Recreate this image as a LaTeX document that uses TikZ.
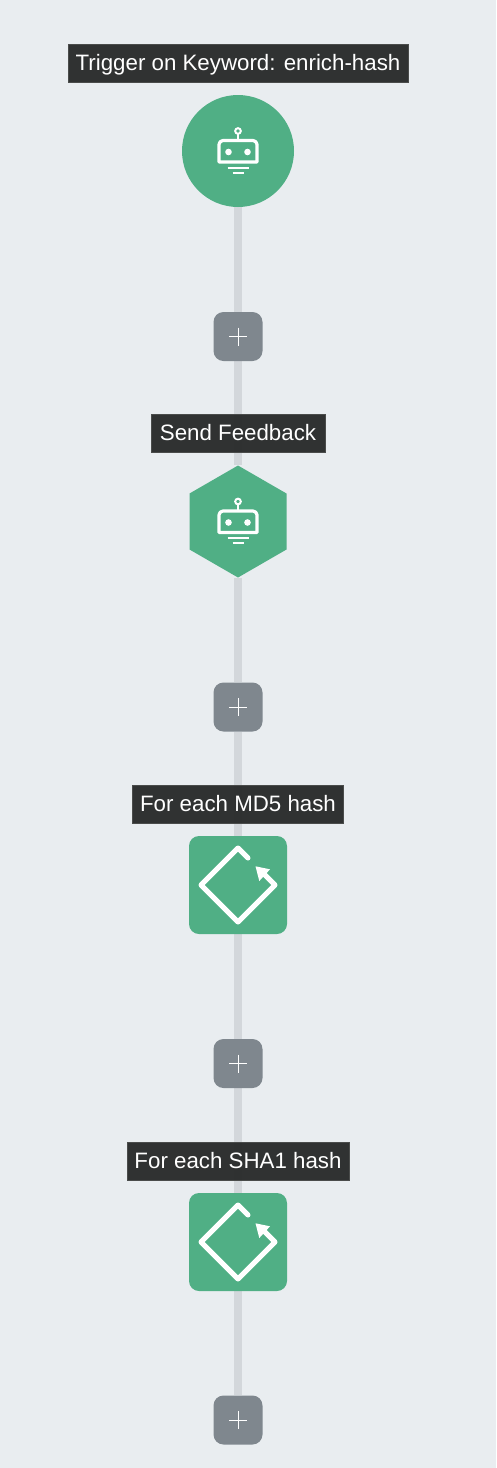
\documentclass[tikz,border=0pt]{standalone}
\usepackage{fontspec}
\setmainfont{Liberation Sans}
\usetikzlibrary{backgrounds, shapes.geometric}
\definecolor{pagefill}{HTML}{E9EDF0}
\definecolor{nodefill}{HTML}{50AF85}
\definecolor{addfill}{HTML}{7F878E}
\definecolor{linkline}{HTML}{D3D7DB}
\definecolor{lblfill}{HTML}{272928}
\definecolor{lblline}{HTML}{4A4C4B}
\tikzset{
  trignode/.style = {circle, fill=nodefill, minimum size=112pt, inner sep=0pt},
  hexnode/.style  = {regular polygon, regular polygon sides=6, shape border rotate=30,
                     fill=nodefill, minimum size=112pt, inner sep=0pt},
  loopnode/.style = {rectangle, rounded corners=10pt, fill=nodefill, minimum size=98pt, inner sep=0pt},
  addnode/.style  = {rectangle, rounded corners=10pt, fill=addfill, minimum size=49pt, inner sep=0pt},
  lbl/.style      = {rectangle, draw=lblline, line width=0.8pt, fill=lblfill, fill opacity=0.95, text opacity=1,
                     text=white, font=\fontsize{22.3}{26}\selectfont, inner sep=0pt, minimum height=38pt,
                     text height=18pt, text depth=3.4pt},
  link/.style     = {line width=7.5pt, draw=linkline},
  roboticon/.pic  = {
    \draw[white, line width=3.2pt, line join=round] (-19,11) [rounded corners=4pt] -- (-19,-10.5) -- (19,-10.5)
      [sharp corners] -- (19,11) -- cycle;
    \fill[white] (-9.5,1) circle (3.3) (9.5,1) circle (3.3);
    \draw[white, line width=2pt] (0,-20) circle (2.8);
    \draw[white, line width=2pt] (0,-17) -- (0,-11);
    \draw[white, line width=2pt] (-10.5,16.5) -- (10.5,16.5) (-5.5,21.5) -- (5.5,21.5);
  },
  loopicon/.pic   = {
    \draw[white, line width=5pt, line cap=round, line join=round] (10,-27) -- (0,-37) -- (-37,0) -- (0,37) -- (37,0) -- (27,-10);
    \fill[white] (17.5,-18.7) -- (32,-15.7) -- (21.3,-4) -- cycle;
  },
  addicon/.pic    = {
    \draw[white, line width=0.9pt] (-9,0) -- (9,0) (0,-9) -- (0,9);
  },
}
\begin{document}
\begin{tikzpicture}[x=1pt, y=-1pt]
	\useasboundingbox (0,0) rectangle (496,1468);
	\node[trignode] (n0) at (238,151) {};
	\node[addnode] (n1) at (238,336.5) {};
	\node[hexnode] (n2) at (238,521.5) {};
	\node[addnode] (n3) at (238,707) {};
	\node[loopnode] (n4) at (238,885) {};
	\node[addnode] (n5) at (238,1063.5) {};
	\node[loopnode] (n6) at (238,1242) {};
	\node[addnode] (n7) at (238,1420) {};
	\pic at (n0) {roboticon};
	\pic at (n2) {roboticon};
	\pic at (n4) {loopicon};
	\pic at (n6) {loopicon};
	\foreach \a in {1,3,5,7}{\pic at (n\a) {addicon};}
	\node[lbl, minimum width=340pt] (l0) at (238,63) {Trigger on Keyword: enrich-hash};
	\node[lbl, minimum width=174pt] (l2) at (238,433.5) {Send Feedback};
	\node[lbl, minimum width=211pt] (l4) at (238,804) {For each MD5 hash};
	\node[lbl, minimum width=222pt] (l6) at (238,1161) {For each SHA1 hash};
	\begin{scope}[on background layer]
		\fill[pagefill] (0,0) rectangle (496,1468);
		\foreach \a/\b in {0/1,1/2,2/3,3/4,4/5,5/6,6/7}{\draw[link] (n\a) -- (n\b);}
	\end{scope}
\end{tikzpicture}
\end{document}
